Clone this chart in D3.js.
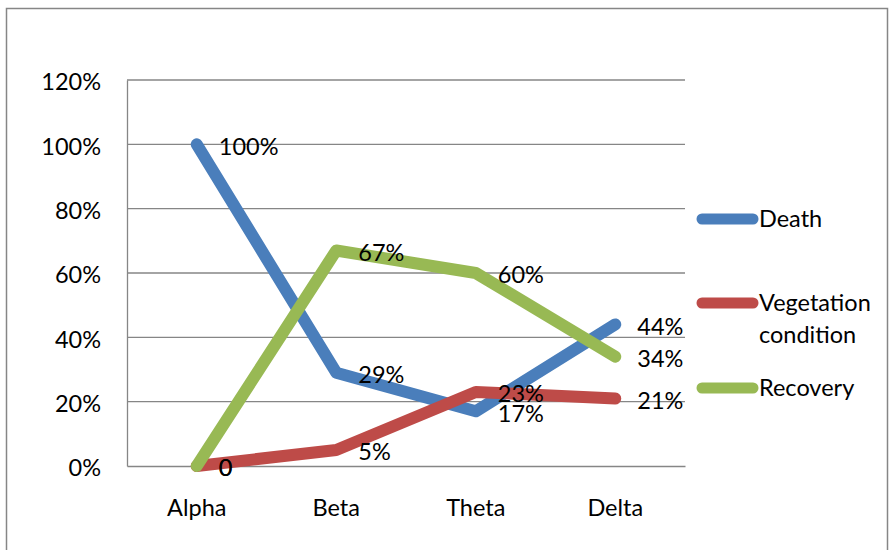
<!DOCTYPE html>
<html>
<head>
<meta charset="utf-8">
<script src="https://cdn.jsdelivr.net/npm/d3@7/dist/d3.min.js"></script>
<style>
  html, body { margin: 0; padding: 0; background: #fff; }
  svg text { font-family: Lato, "Open Sans", sans-serif; fill: #000; }
</style>
</head>
<body>
<svg id="chart" width="889" height="550"></svg>
<script>
// Categories and series (fractions of 1)
const categories = ["Alpha", "Beta", "Theta", "Delta"];
const seriesNames = ["Death", "Vegetation condition", "Recovery"];
const death = [1.00, 0.29, 0.17, 0.44];
const vegetation = [0.00, 0.05, 0.23, 0.21];
const recovery = [0.00, 0.67, 0.60, 0.34];
const pointLabels = [
  ["100%", "29%", "17%", "44%"],
  ["0", "5%", "23%", "21%"],
  ["0", "67%", "60%", "34%"]
];
const yTicks = [0, 0.2, 0.4, 0.6, 0.8, 1.0, 1.2];
const colors = ["#4a7ebb", "#be4b48", "#98b954"];

const series = [death, vegetation, recovery].map((values, i) => ({
  name: seriesNames[i], values, labels: pointLabels[i], color: colors[i]
}));

const FONT = 23.5;
const svg = d3.select("#chart");
const plot = { left: 127, right: 685, top: 80, bottom: 466 };

// outer chart frame
svg.append("rect")
  .attr("x", 6.5).attr("y", 8.5).attr("width", 881).attr("height", 560)
  .attr("fill", "#fff").attr("stroke", "#868686").attr("stroke-width", 1.5);

const x = d3.scaleBand().domain(categories).range([plot.left, plot.right]);
const y = d3.scaleLinear().domain([0, 1.2]).range([plot.bottom, plot.top]);

// horizontal gridlines
svg.append("g").selectAll("line").data(yTicks.slice(1)).join("line")
  .attr("x1", plot.left).attr("x2", plot.right)
  .attr("y1", d => y(d)).attr("y2", d => y(d))
  .attr("stroke", "#868686").attr("stroke-width", 1.3);

// y axis
const yAxis = svg.append("g")
  .attr("transform", `translate(${plot.left},0)`)
  .call(d3.axisLeft(y).tickValues(yTicks).tickFormat(d3.format(".0%")).tickSize(0).tickPadding(26));
yAxis.select(".domain").attr("stroke", "#868686").attr("stroke-width", 1.3);
yAxis.selectAll("text").attr("font-size", FONT).attr("dy", "0.42em")
  .style("font-family", "Lato, sans-serif");

// x axis
const xAxis = svg.append("g")
  .attr("transform", `translate(0,${plot.bottom})`)
  .call(d3.axisBottom(x).tickSize(0).tickPadding(33));
xAxis.select(".domain").attr("stroke", "#868686").attr("stroke-width", 1.3);
xAxis.selectAll("text").attr("font-size", FONT).style("font-family", "Lato, sans-serif");

// series lines
const line = d3.line()
  .x((d, i) => x(categories[i]) + x.bandwidth() / 2)
  .y(d => y(d));

svg.append("g").selectAll("path").data(series).join("path")
  .attr("d", d => line(d.values))
  .attr("fill", "none")
  .attr("stroke", d => d.color)
  .attr("stroke-width", 12)
  .attr("stroke-linecap", "round")
  .attr("stroke-linejoin", "round");

// value labels to the right of each point
const labelG = svg.append("g");
series.forEach(s => {
  labelG.selectAll(null).data(s.values).join("text")
    .attr("x", (d, i) => x(categories[i]) + x.bandwidth() / 2 + 22)
    .attr("y", d => y(d) + 2)
    .attr("dy", "0.36em")
    .attr("font-size", FONT)
    .text((d, i) => s.labels[i]);
});

// legend
const legendY = [219, 303, 388];
const legend = svg.append("g").selectAll("g").data(series).join("g")
  .attr("transform", (d, i) => `translate(0,${legendY[i]})`);
legend.append("line")
  .attr("x1", 702).attr("x2", 753)
  .attr("stroke", d => d.color).attr("stroke-width", 11)
  .attr("stroke-linecap", "round");
legend.append("text")
  .attr("x", 759).attr("font-size", FONT)
  .each(function(d) {
    const words = d.name === "Vegetation condition" ? ["Vegetation", "condition"] : [d.name];
    const t = d3.select(this);
    words.forEach((w, k) => {
      t.append("tspan").attr("x", 759).attr("y", k * 32).attr("dy", "0.36em").text(w);
    });
  });
</script>
</body>
</html>
